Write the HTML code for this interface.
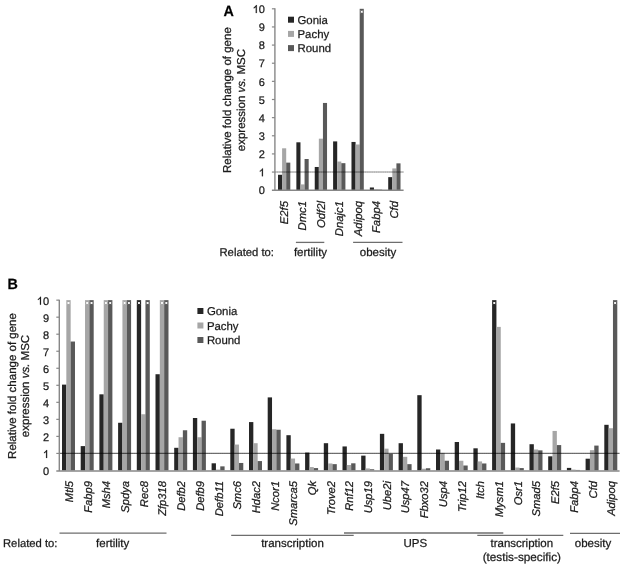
<!DOCTYPE html>
<html><head><meta charset="utf-8"><style>
html,body{margin:0;padding:0;background:#fff;}
body{width:624px;height:567px;overflow:hidden;}
svg{display:block;font-family:"Liberation Sans", sans-serif;filter:grayscale(1) blur(0.3px);text-rendering:geometricPrecision;}
text{stroke:#1a1a1a;stroke-width:0.25px;}
</style></head><body>
<svg width="624" height="567" viewBox="0 0 624 567">
<rect width="624" height="567" fill="#fff"/>
<rect x="278.00" y="174.78" width="4.10" height="15.42" fill="#262626"/>
<rect x="282.10" y="148.30" width="4.10" height="41.90" fill="#a6a6a6"/>
<rect x="286.20" y="162.63" width="4.10" height="27.57" fill="#595959"/>
<rect x="296.37" y="142.31" width="4.10" height="47.89" fill="#262626"/>
<rect x="300.47" y="184.40" width="4.10" height="5.80" fill="#a6a6a6"/>
<rect x="304.57" y="159.00" width="4.10" height="31.20" fill="#595959"/>
<rect x="314.74" y="166.98" width="4.10" height="23.22" fill="#262626"/>
<rect x="318.84" y="138.68" width="4.10" height="51.52" fill="#a6a6a6"/>
<rect x="322.94" y="102.95" width="4.10" height="87.25" fill="#595959"/>
<rect x="333.11" y="141.40" width="4.10" height="48.80" fill="#262626"/>
<rect x="337.21" y="161.54" width="4.10" height="28.66" fill="#a6a6a6"/>
<rect x="341.31" y="163.17" width="4.10" height="27.03" fill="#595959"/>
<rect x="351.48" y="141.95" width="4.10" height="48.25" fill="#262626"/>
<rect x="355.58" y="144.49" width="4.10" height="45.71" fill="#a6a6a6"/>
<rect x="359.68" y="8.80" width="4.10" height="181.40" fill="#595959"/>
<path d="M360.53 10.50L362.93 12.90M362.93 10.50L360.53 12.90" stroke="#fff" stroke-opacity="0.55" stroke-width="0.8"/>
<circle cx="361.73" cy="11.70" r="1.05" fill="#fff"/>
<rect x="369.85" y="187.48" width="4.10" height="2.72" fill="#262626"/>
<rect x="373.95" y="189.29" width="4.10" height="0.91" fill="#a6a6a6"/>
<rect x="378.05" y="189.66" width="4.10" height="0.54" fill="#595959"/>
<rect x="388.22" y="177.14" width="4.10" height="13.06" fill="#262626"/>
<rect x="392.32" y="168.43" width="4.10" height="21.77" fill="#a6a6a6"/>
<rect x="396.42" y="163.35" width="4.10" height="26.85" fill="#595959"/>
<line x1="274.90" y1="172.06" x2="403.60" y2="172.06" stroke="#000" stroke-width="1.5" stroke-opacity="0.28"/>
<line x1="274.90" y1="172.06" x2="403.60" y2="172.06" stroke="#000" stroke-width="1.2000000000000002" stroke-opacity="0.12" stroke-dasharray="1 1.2"/>
<line x1="274.90" y1="190.70" x2="274.90" y2="8.30" stroke="#878787" stroke-width="1.4" />
<text x="264.80" y="194.40" font-size="11" text-anchor="end" fill="#1a1a1a" stroke="#1a1a1a" >0</text>
<line x1="271.90" y1="172.06" x2="274.90" y2="172.06" stroke="#878787" stroke-width="1.2" />
<path d="M261.90 176.26L262.90 176.26L262.90 168.38L262.24 168.38C261.80 169.37 260.88 170.25 259.84 170.69L259.84 171.63C260.66 171.35 261.68 170.58 261.90 170.14Z" fill="#1a1a1a" stroke="#1a1a1a" stroke-width="0.2"/>
<line x1="271.90" y1="153.92" x2="274.90" y2="153.92" stroke="#878787" stroke-width="1.2" />
<text x="264.80" y="158.12" font-size="11" text-anchor="end" fill="#1a1a1a" stroke="#1a1a1a" >2</text>
<line x1="271.90" y1="135.78" x2="274.90" y2="135.78" stroke="#878787" stroke-width="1.2" />
<text x="264.80" y="139.98" font-size="11" text-anchor="end" fill="#1a1a1a" stroke="#1a1a1a" >3</text>
<line x1="271.90" y1="117.64" x2="274.90" y2="117.64" stroke="#878787" stroke-width="1.2" />
<text x="264.80" y="121.84" font-size="11" text-anchor="end" fill="#1a1a1a" stroke="#1a1a1a" >4</text>
<line x1="271.90" y1="99.50" x2="274.90" y2="99.50" stroke="#878787" stroke-width="1.2" />
<text x="264.80" y="103.70" font-size="11" text-anchor="end" fill="#1a1a1a" stroke="#1a1a1a" >5</text>
<line x1="271.90" y1="81.36" x2="274.90" y2="81.36" stroke="#878787" stroke-width="1.2" />
<text x="264.80" y="85.56" font-size="11" text-anchor="end" fill="#1a1a1a" stroke="#1a1a1a" >6</text>
<line x1="271.90" y1="63.22" x2="274.90" y2="63.22" stroke="#878787" stroke-width="1.2" />
<text x="264.80" y="67.42" font-size="11" text-anchor="end" fill="#1a1a1a" stroke="#1a1a1a" >7</text>
<line x1="271.90" y1="45.08" x2="274.90" y2="45.08" stroke="#878787" stroke-width="1.2" />
<text x="264.80" y="49.28" font-size="11" text-anchor="end" fill="#1a1a1a" stroke="#1a1a1a" >8</text>
<line x1="271.90" y1="26.94" x2="274.90" y2="26.94" stroke="#878787" stroke-width="1.2" />
<text x="264.80" y="31.14" font-size="11" text-anchor="end" fill="#1a1a1a" stroke="#1a1a1a" >9</text>
<line x1="271.90" y1="8.80" x2="274.90" y2="8.80" stroke="#878787" stroke-width="1.2" />
<text x="264.80" y="13.00" font-size="11" text-anchor="end" fill="#1a1a1a" stroke="#1a1a1a" >0</text>
<path d="M255.78 13.00L256.78 13.00L256.78 5.12L256.12 5.12C255.68 6.11 254.77 6.99 253.72 7.43L253.72 8.37C254.55 8.09 255.56 7.32 255.78 6.88Z" fill="#1a1a1a" stroke="#1a1a1a" stroke-width="0.2"/>
<line x1="271.90" y1="190.30" x2="403.60" y2="190.30" stroke="#878787" stroke-width="1.4" />
<text transform="translate(288.05,201.00) rotate(-90)" x="0" y="0" font-size="11.3" font-style="italic" text-anchor="end" fill="#1a1a1a">E2f5</text>
<text transform="translate(306.42,201.00) rotate(-90)" x="0" y="0" font-size="11.3" font-style="italic" text-anchor="end" fill="#1a1a1a">Dmc1</text>
<text transform="translate(324.79,201.00) rotate(-90)" x="0" y="0" font-size="11.3" font-style="italic" text-anchor="end" fill="#1a1a1a">Odf2l</text>
<text transform="translate(343.16,201.00) rotate(-90)" x="0" y="0" font-size="11.3" font-style="italic" text-anchor="end" fill="#1a1a1a">Dnajc1</text>
<text transform="translate(361.53,201.00) rotate(-90)" x="0" y="0" font-size="11.3" font-style="italic" text-anchor="end" fill="#1a1a1a">Adipoq</text>
<text transform="translate(379.90,201.00) rotate(-90)" x="0" y="0" font-size="11.3" font-style="italic" text-anchor="end" fill="#1a1a1a">Fabp4</text>
<text transform="translate(398.27,201.00) rotate(-90)" x="0" y="0" font-size="11.3" font-style="italic" text-anchor="end" fill="#1a1a1a">Cfd</text>
<text transform="translate(231.30,100.10) rotate(-90)" font-size="11.5" text-anchor="middle" fill="#1a1a1a">Relative fold change of gene</text>
<text transform="translate(244.50,100.10) rotate(-90)" font-size="11.5" text-anchor="middle" fill="#1a1a1a">expression <tspan font-style="italic">vs.</tspan> MSC</text>
<rect x="288.00" y="16.70" width="6.00" height="6.00" fill="#262626"/>
<text x="297.50" y="23.70" font-size="11.4" text-anchor="start" fill="#1a1a1a" stroke="#1a1a1a" >Gonia</text>
<rect x="288.00" y="30.90" width="6.00" height="6.00" fill="#a6a6a6"/>
<text x="297.50" y="37.90" font-size="11.4" text-anchor="start" fill="#1a1a1a" stroke="#1a1a1a" >Pachy</text>
<rect x="288.00" y="45.10" width="6.00" height="6.00" fill="#595959"/>
<text x="297.50" y="52.10" font-size="11.4" text-anchor="start" fill="#1a1a1a" stroke="#1a1a1a" >Round</text>
<text transform="translate(223.40,16.20) scale(0.97,1)" font-size="14.8" font-weight="bold" fill="#000" stroke="none">A</text>
<rect x="62.00" y="384.62" width="4.33" height="85.83" fill="#262626"/>
<rect x="66.33" y="300.15" width="4.33" height="170.30" fill="#a6a6a6"/>
<path d="M67.30 301.85L69.70 304.25M69.70 301.85L67.30 304.25" stroke="#fff" stroke-opacity="0.55" stroke-width="0.8"/>
<circle cx="68.50" cy="303.05" r="1.05" fill="#fff"/>
<rect x="70.66" y="341.53" width="4.33" height="128.92" fill="#595959"/>
<rect x="80.70" y="446.10" width="4.33" height="24.35" fill="#262626"/>
<rect x="85.03" y="300.15" width="4.33" height="170.30" fill="#a6a6a6"/>
<path d="M86.00 301.85L88.40 304.25M88.40 301.85L86.00 304.25" stroke="#fff" stroke-opacity="0.55" stroke-width="0.8"/>
<circle cx="87.20" cy="303.05" r="1.05" fill="#fff"/>
<rect x="89.36" y="300.15" width="4.33" height="170.30" fill="#595959"/>
<path d="M90.33 301.85L92.73 304.25M92.73 301.85L90.33 304.25" stroke="#fff" stroke-opacity="0.55" stroke-width="0.8"/>
<circle cx="91.53" cy="303.05" r="1.05" fill="#fff"/>
<rect x="99.40" y="394.33" width="4.33" height="76.12" fill="#262626"/>
<rect x="103.73" y="300.15" width="4.33" height="170.30" fill="#a6a6a6"/>
<path d="M104.70 301.85L107.10 304.25M107.10 301.85L104.70 304.25" stroke="#fff" stroke-opacity="0.55" stroke-width="0.8"/>
<circle cx="105.90" cy="303.05" r="1.05" fill="#fff"/>
<rect x="108.06" y="300.15" width="4.33" height="170.30" fill="#595959"/>
<path d="M109.03 301.85L111.43 304.25M111.43 301.85L109.03 304.25" stroke="#fff" stroke-opacity="0.55" stroke-width="0.8"/>
<circle cx="110.23" cy="303.05" r="1.05" fill="#fff"/>
<rect x="118.10" y="422.77" width="4.33" height="47.68" fill="#262626"/>
<rect x="122.43" y="300.15" width="4.33" height="170.30" fill="#a6a6a6"/>
<path d="M123.39 301.85L125.80 304.25M125.80 301.85L123.39 304.25" stroke="#fff" stroke-opacity="0.55" stroke-width="0.8"/>
<circle cx="124.59" cy="303.05" r="1.05" fill="#fff"/>
<rect x="126.76" y="300.15" width="4.33" height="170.30" fill="#595959"/>
<path d="M127.72 301.85L130.12 304.25M130.12 301.85L127.72 304.25" stroke="#fff" stroke-opacity="0.55" stroke-width="0.8"/>
<circle cx="128.92" cy="303.05" r="1.05" fill="#fff"/>
<rect x="136.80" y="300.15" width="4.33" height="170.30" fill="#262626"/>
<path d="M137.77 301.85L140.16 304.25M140.16 301.85L137.77 304.25" stroke="#fff" stroke-opacity="0.55" stroke-width="0.8"/>
<circle cx="138.97" cy="303.05" r="1.05" fill="#fff"/>
<rect x="141.13" y="414.25" width="4.33" height="56.20" fill="#a6a6a6"/>
<rect x="145.46" y="300.15" width="4.33" height="170.30" fill="#595959"/>
<path d="M146.43 301.85L148.82 304.25M148.82 301.85L146.43 304.25" stroke="#fff" stroke-opacity="0.55" stroke-width="0.8"/>
<circle cx="147.62" cy="303.05" r="1.05" fill="#fff"/>
<rect x="155.50" y="374.23" width="4.33" height="96.22" fill="#262626"/>
<rect x="159.83" y="300.15" width="4.33" height="170.30" fill="#a6a6a6"/>
<path d="M160.80 301.85L163.19 304.25M163.19 301.85L160.80 304.25" stroke="#fff" stroke-opacity="0.55" stroke-width="0.8"/>
<circle cx="162.00" cy="303.05" r="1.05" fill="#fff"/>
<rect x="164.16" y="300.15" width="4.33" height="170.30" fill="#595959"/>
<path d="M165.12 301.85L167.52 304.25M167.52 301.85L165.12 304.25" stroke="#fff" stroke-opacity="0.55" stroke-width="0.8"/>
<circle cx="166.32" cy="303.05" r="1.05" fill="#fff"/>
<rect x="174.20" y="447.80" width="4.33" height="22.65" fill="#262626"/>
<rect x="178.53" y="437.24" width="4.33" height="33.21" fill="#a6a6a6"/>
<rect x="182.86" y="430.26" width="4.33" height="40.19" fill="#595959"/>
<rect x="192.90" y="418.00" width="4.33" height="52.45" fill="#262626"/>
<rect x="197.23" y="437.24" width="4.33" height="33.21" fill="#a6a6a6"/>
<rect x="201.56" y="420.72" width="4.33" height="49.73" fill="#595959"/>
<rect x="211.60" y="463.30" width="4.33" height="7.15" fill="#262626"/>
<rect x="215.93" y="469.60" width="4.33" height="0.85" fill="#a6a6a6"/>
<rect x="220.26" y="466.36" width="4.33" height="4.09" fill="#595959"/>
<rect x="230.30" y="428.73" width="4.33" height="41.72" fill="#262626"/>
<rect x="234.63" y="444.56" width="4.33" height="25.89" fill="#a6a6a6"/>
<rect x="238.96" y="462.96" width="4.33" height="7.49" fill="#595959"/>
<rect x="249.00" y="422.08" width="4.33" height="48.37" fill="#262626"/>
<rect x="253.33" y="443.20" width="4.33" height="27.25" fill="#a6a6a6"/>
<rect x="257.66" y="461.08" width="4.33" height="9.37" fill="#595959"/>
<rect x="267.70" y="397.39" width="4.33" height="73.06" fill="#262626"/>
<rect x="272.03" y="429.24" width="4.33" height="41.21" fill="#a6a6a6"/>
<rect x="276.36" y="429.75" width="4.33" height="40.70" fill="#595959"/>
<rect x="286.40" y="435.20" width="4.33" height="35.25" fill="#262626"/>
<rect x="290.73" y="458.53" width="4.33" height="11.92" fill="#a6a6a6"/>
<rect x="295.06" y="463.47" width="4.33" height="6.98" fill="#595959"/>
<rect x="305.10" y="452.57" width="4.33" height="17.88" fill="#262626"/>
<rect x="309.43" y="467.04" width="4.33" height="3.41" fill="#a6a6a6"/>
<rect x="313.76" y="468.07" width="4.33" height="2.38" fill="#595959"/>
<rect x="323.80" y="443.20" width="4.33" height="27.25" fill="#262626"/>
<rect x="328.13" y="463.47" width="4.33" height="6.98" fill="#a6a6a6"/>
<rect x="332.46" y="464.15" width="4.33" height="6.30" fill="#595959"/>
<rect x="342.50" y="446.44" width="4.33" height="24.01" fill="#262626"/>
<rect x="346.83" y="465.00" width="4.33" height="5.45" fill="#a6a6a6"/>
<rect x="351.16" y="463.30" width="4.33" height="7.15" fill="#595959"/>
<rect x="361.20" y="455.63" width="4.33" height="14.82" fill="#262626"/>
<rect x="365.53" y="468.41" width="4.33" height="2.04" fill="#a6a6a6"/>
<rect x="369.86" y="469.26" width="4.33" height="1.19" fill="#595959"/>
<rect x="379.90" y="433.84" width="4.33" height="36.61" fill="#262626"/>
<rect x="384.23" y="448.65" width="4.33" height="21.80" fill="#a6a6a6"/>
<rect x="388.56" y="453.76" width="4.33" height="16.69" fill="#595959"/>
<rect x="398.60" y="443.20" width="4.33" height="27.25" fill="#262626"/>
<rect x="402.93" y="456.83" width="4.33" height="13.62" fill="#a6a6a6"/>
<rect x="407.26" y="464.15" width="4.33" height="6.30" fill="#595959"/>
<rect x="417.30" y="395.18" width="4.33" height="75.27" fill="#262626"/>
<rect x="421.63" y="468.75" width="4.33" height="1.70" fill="#a6a6a6"/>
<rect x="425.96" y="468.24" width="4.33" height="2.21" fill="#595959"/>
<rect x="436.00" y="449.50" width="4.33" height="20.95" fill="#262626"/>
<rect x="440.33" y="452.91" width="4.33" height="17.54" fill="#a6a6a6"/>
<rect x="444.66" y="460.74" width="4.33" height="9.71" fill="#595959"/>
<rect x="454.70" y="442.01" width="4.33" height="28.44" fill="#262626"/>
<rect x="459.03" y="460.74" width="4.33" height="9.71" fill="#a6a6a6"/>
<rect x="463.36" y="465.51" width="4.33" height="4.94" fill="#595959"/>
<rect x="473.40" y="448.31" width="4.33" height="22.14" fill="#262626"/>
<rect x="477.73" y="461.42" width="4.33" height="9.03" fill="#a6a6a6"/>
<rect x="482.06" y="463.47" width="4.33" height="6.98" fill="#595959"/>
<rect x="492.10" y="300.15" width="4.33" height="170.30" fill="#262626"/>
<path d="M493.06 301.85L495.46 304.25M495.46 301.85L493.06 304.25" stroke="#fff" stroke-opacity="0.55" stroke-width="0.8"/>
<circle cx="494.26" cy="303.05" r="1.05" fill="#fff"/>
<rect x="496.43" y="326.89" width="4.33" height="143.56" fill="#a6a6a6"/>
<rect x="500.76" y="442.86" width="4.33" height="27.59" fill="#595959"/>
<rect x="510.80" y="423.45" width="4.33" height="47.00" fill="#262626"/>
<rect x="515.13" y="467.55" width="4.33" height="2.90" fill="#a6a6a6"/>
<rect x="519.46" y="468.07" width="4.33" height="2.38" fill="#595959"/>
<rect x="529.50" y="444.22" width="4.33" height="26.23" fill="#262626"/>
<rect x="533.83" y="449.50" width="4.33" height="20.95" fill="#a6a6a6"/>
<rect x="538.16" y="450.35" width="4.33" height="20.10" fill="#595959"/>
<rect x="548.20" y="456.32" width="4.33" height="14.13" fill="#262626"/>
<rect x="552.53" y="430.94" width="4.33" height="39.51" fill="#a6a6a6"/>
<rect x="556.86" y="445.08" width="4.33" height="25.37" fill="#595959"/>
<rect x="566.90" y="467.90" width="4.33" height="2.55" fill="#262626"/>
<rect x="571.23" y="469.60" width="4.33" height="0.85" fill="#a6a6a6"/>
<rect x="575.56" y="469.94" width="4.33" height="0.51" fill="#595959"/>
<rect x="585.60" y="458.70" width="4.33" height="11.75" fill="#262626"/>
<rect x="589.93" y="450.18" width="4.33" height="20.27" fill="#a6a6a6"/>
<rect x="594.26" y="445.59" width="4.33" height="24.86" fill="#595959"/>
<rect x="604.30" y="424.81" width="4.33" height="45.64" fill="#262626"/>
<rect x="608.63" y="428.22" width="4.33" height="42.23" fill="#a6a6a6"/>
<rect x="612.96" y="300.15" width="4.33" height="170.30" fill="#595959"/>
<path d="M613.92 301.85L616.32 304.25M616.32 301.85L613.92 304.25" stroke="#fff" stroke-opacity="0.55" stroke-width="0.8"/>
<circle cx="615.12" cy="303.05" r="1.05" fill="#fff"/>
<line x1="59.30" y1="453.42" x2="619.60" y2="453.42" stroke="#000" stroke-width="1.1" stroke-opacity="0.55"/>
<line x1="59.30" y1="453.42" x2="619.60" y2="453.42" stroke="#000" stroke-width="0.8800000000000001" stroke-opacity="0.12" stroke-dasharray="1 1.2"/>
<line x1="59.30" y1="470.95" x2="59.30" y2="299.65" stroke="#878787" stroke-width="1.4" />
<text x="49.00" y="474.95" font-size="11" text-anchor="end" fill="#1a1a1a" stroke="#1a1a1a" >0</text>
<line x1="56.30" y1="453.42" x2="59.30" y2="453.42" stroke="#878787" stroke-width="1.2" />
<path d="M46.10 457.92L47.10 457.92L47.10 450.04L46.44 450.04C46.00 451.03 45.08 451.91 44.04 452.35L44.04 453.29C44.86 453.01 45.88 452.24 46.10 451.80Z" fill="#1a1a1a" stroke="#1a1a1a" stroke-width="0.2"/>
<line x1="56.30" y1="436.39" x2="59.30" y2="436.39" stroke="#878787" stroke-width="1.2" />
<text x="49.00" y="440.89" font-size="11" text-anchor="end" fill="#1a1a1a" stroke="#1a1a1a" >2</text>
<line x1="56.30" y1="419.36" x2="59.30" y2="419.36" stroke="#878787" stroke-width="1.2" />
<text x="49.00" y="423.86" font-size="11" text-anchor="end" fill="#1a1a1a" stroke="#1a1a1a" >3</text>
<line x1="56.30" y1="402.33" x2="59.30" y2="402.33" stroke="#878787" stroke-width="1.2" />
<text x="49.00" y="406.83" font-size="11" text-anchor="end" fill="#1a1a1a" stroke="#1a1a1a" >4</text>
<line x1="56.30" y1="385.30" x2="59.30" y2="385.30" stroke="#878787" stroke-width="1.2" />
<text x="49.00" y="389.80" font-size="11" text-anchor="end" fill="#1a1a1a" stroke="#1a1a1a" >5</text>
<line x1="56.30" y1="368.27" x2="59.30" y2="368.27" stroke="#878787" stroke-width="1.2" />
<text x="49.00" y="372.77" font-size="11" text-anchor="end" fill="#1a1a1a" stroke="#1a1a1a" >6</text>
<line x1="56.30" y1="351.24" x2="59.30" y2="351.24" stroke="#878787" stroke-width="1.2" />
<text x="49.00" y="355.74" font-size="11" text-anchor="end" fill="#1a1a1a" stroke="#1a1a1a" >7</text>
<line x1="56.30" y1="334.21" x2="59.30" y2="334.21" stroke="#878787" stroke-width="1.2" />
<text x="49.00" y="338.71" font-size="11" text-anchor="end" fill="#1a1a1a" stroke="#1a1a1a" >8</text>
<line x1="56.30" y1="317.18" x2="59.30" y2="317.18" stroke="#878787" stroke-width="1.2" />
<text x="49.00" y="321.68" font-size="11" text-anchor="end" fill="#1a1a1a" stroke="#1a1a1a" >9</text>
<line x1="56.30" y1="300.15" x2="59.30" y2="300.15" stroke="#878787" stroke-width="1.2" />
<text x="49.00" y="304.65" font-size="11" text-anchor="end" fill="#1a1a1a" stroke="#1a1a1a" >0</text>
<path d="M39.98 304.65L40.98 304.65L40.98 296.77L40.32 296.77C39.88 297.76 38.97 298.64 37.92 299.08L37.92 300.02C38.75 299.74 39.76 298.97 39.98 298.53Z" fill="#1a1a1a" stroke="#1a1a1a" stroke-width="0.2"/>
<line x1="56.30" y1="470.95" x2="619.60" y2="470.95" stroke="#878787" stroke-width="1.4" />
<text transform="translate(72.90,481.00) rotate(-90)" x="0" y="0" font-size="11.2" font-style="italic" text-anchor="end" fill="#1a1a1a">Mtl5</text>
<text transform="translate(91.60,481.00) rotate(-90)" x="0" y="0" font-size="11.2" font-style="italic" text-anchor="end" fill="#1a1a1a">Fabp9</text>
<text transform="translate(110.30,481.00) rotate(-90)" x="0" y="0" font-size="11.2" font-style="italic" text-anchor="end" fill="#1a1a1a">Msh4</text>
<text transform="translate(129.00,481.00) rotate(-90)" x="0" y="0" font-size="11.2" font-style="italic" text-anchor="end" fill="#1a1a1a">Spdya</text>
<text transform="translate(147.70,481.00) rotate(-90)" x="0" y="0" font-size="11.2" font-style="italic" text-anchor="end" fill="#1a1a1a">Rec8</text>
<text transform="translate(166.40,481.00) rotate(-90)" x="0" y="0" font-size="11.2" font-style="italic" text-anchor="end" fill="#1a1a1a">Zfp318</text>
<text transform="translate(185.09,481.00) rotate(-90)" x="0" y="0" font-size="11.2" font-style="italic" text-anchor="end" fill="#1a1a1a">Defb2</text>
<text transform="translate(203.80,481.00) rotate(-90)" x="0" y="0" font-size="11.2" font-style="italic" text-anchor="end" fill="#1a1a1a">Defb9</text>
<text transform="translate(222.50,481.00) rotate(-90)" x="0" y="0" font-size="11.2" font-style="italic" text-anchor="end" fill="#1a1a1a">Defb11</text>
<text transform="translate(241.19,481.00) rotate(-90)" x="0" y="0" font-size="11.2" font-style="italic" text-anchor="end" fill="#1a1a1a">Smc6</text>
<text transform="translate(259.89,481.00) rotate(-90)" x="0" y="0" font-size="11.2" font-style="italic" text-anchor="end" fill="#1a1a1a">Hdac2</text>
<text transform="translate(278.59,481.00) rotate(-90)" x="0" y="0" font-size="11.2" font-style="italic" text-anchor="end" fill="#1a1a1a">Ncor1</text>
<text transform="translate(297.29,481.00) rotate(-90)" x="0" y="0" font-size="11.2" font-style="italic" text-anchor="end" fill="#1a1a1a">Smarca5</text>
<text transform="translate(316.00,481.00) rotate(-90)" x="0" y="0" font-size="11.2" font-style="italic" text-anchor="end" fill="#1a1a1a">Qk</text>
<text transform="translate(334.69,481.00) rotate(-90)" x="0" y="0" font-size="11.2" font-style="italic" text-anchor="end" fill="#1a1a1a">Trove2</text>
<text transform="translate(353.39,481.00) rotate(-90)" x="0" y="0" font-size="11.2" font-style="italic" text-anchor="end" fill="#1a1a1a">Rnf12</text>
<text transform="translate(372.09,481.00) rotate(-90)" x="0" y="0" font-size="11.2" font-style="italic" text-anchor="end" fill="#1a1a1a">Usp19</text>
<text transform="translate(390.79,481.00) rotate(-90)" x="0" y="0" font-size="11.2" font-style="italic" text-anchor="end" fill="#1a1a1a">Ube2i</text>
<text transform="translate(409.49,481.00) rotate(-90)" x="0" y="0" font-size="11.2" font-style="italic" text-anchor="end" fill="#1a1a1a">Usp47</text>
<text transform="translate(428.19,481.00) rotate(-90)" x="0" y="0" font-size="11.2" font-style="italic" text-anchor="end" fill="#1a1a1a">Fbxo32</text>
<text transform="translate(446.89,481.00) rotate(-90)" x="0" y="0" font-size="11.2" font-style="italic" text-anchor="end" fill="#1a1a1a">Usp4</text>
<text transform="translate(465.59,481.00) rotate(-90)" x="0" y="0" font-size="11.2" font-style="italic" text-anchor="end" fill="#1a1a1a">Trip12</text>
<text transform="translate(484.29,481.00) rotate(-90)" x="0" y="0" font-size="11.2" font-style="italic" text-anchor="end" fill="#1a1a1a">Itch</text>
<text transform="translate(502.99,481.00) rotate(-90)" x="0" y="0" font-size="11.2" font-style="italic" text-anchor="end" fill="#1a1a1a">Mysm1</text>
<text transform="translate(521.69,481.00) rotate(-90)" x="0" y="0" font-size="11.2" font-style="italic" text-anchor="end" fill="#1a1a1a">Osr1</text>
<text transform="translate(540.39,481.00) rotate(-90)" x="0" y="0" font-size="11.2" font-style="italic" text-anchor="end" fill="#1a1a1a">Smad5</text>
<text transform="translate(559.10,481.00) rotate(-90)" x="0" y="0" font-size="11.2" font-style="italic" text-anchor="end" fill="#1a1a1a">E2f5</text>
<text transform="translate(577.79,481.00) rotate(-90)" x="0" y="0" font-size="11.2" font-style="italic" text-anchor="end" fill="#1a1a1a">Fabp4</text>
<text transform="translate(596.50,481.00) rotate(-90)" x="0" y="0" font-size="11.2" font-style="italic" text-anchor="end" fill="#1a1a1a">Cfd</text>
<text transform="translate(615.19,481.00) rotate(-90)" x="0" y="0" font-size="11.2" font-style="italic" text-anchor="end" fill="#1a1a1a">Adipoq</text>
<text transform="translate(15.50,386.00) rotate(-90)" font-size="11.5" text-anchor="middle" fill="#1a1a1a">Relative fold change of gene</text>
<text transform="translate(28.90,386.00) rotate(-90)" font-size="11.5" text-anchor="middle" fill="#1a1a1a">expression <tspan font-style="italic">vs.</tspan> MSC</text>
<rect x="197.40" y="308.00" width="6.00" height="6.00" fill="#262626"/>
<text x="206.90" y="315.00" font-size="11.4" text-anchor="start" fill="#1a1a1a" stroke="#1a1a1a" >Gonia</text>
<rect x="197.40" y="322.50" width="6.00" height="6.00" fill="#a6a6a6"/>
<text x="206.90" y="329.50" font-size="11.4" text-anchor="start" fill="#1a1a1a" stroke="#1a1a1a" >Pachy</text>
<rect x="197.40" y="337.00" width="6.00" height="6.00" fill="#595959"/>
<text x="206.90" y="344.00" font-size="11.4" text-anchor="start" fill="#1a1a1a" stroke="#1a1a1a" >Round</text>
<text transform="translate(7.40,289.40) scale(0.97,1)" font-size="14.8" font-weight="bold" fill="#000" stroke="none">B</text>
<text x="219.50" y="255.50" font-size="11.25" text-anchor="start" fill="#1a1a1a" stroke="#1a1a1a" >Related to:</text>
<line x1="295.90" y1="242.40" x2="324.30" y2="242.40" stroke="#6e6e6e" stroke-width="1.3" />
<text x="310.50" y="255.50" font-size="11.5" text-anchor="middle" fill="#1a1a1a" stroke="#1a1a1a" >fertility</text>
<line x1="353.10" y1="242.30" x2="402.50" y2="242.30" stroke="#6e6e6e" stroke-width="1.3" />
<text x="378.00" y="255.50" font-size="11.5" text-anchor="middle" fill="#1a1a1a" stroke="#1a1a1a" >obesity</text>
<text x="3.00" y="547.00" font-size="11.25" text-anchor="start" fill="#1a1a1a" stroke="#1a1a1a" >Related to:</text>
<line x1="59.50" y1="533.10" x2="166.50" y2="533.10" stroke="#6e6e6e" stroke-width="1.3" />
<text x="112.70" y="547.00" font-size="11.5" text-anchor="middle" fill="#1a1a1a" stroke="#1a1a1a" >fertility</text>
<line x1="231.20" y1="535.30" x2="353.70" y2="535.30" stroke="#6e6e6e" stroke-width="1.3" />
<text x="292.50" y="547.00" font-size="11.5" text-anchor="middle" fill="#1a1a1a" stroke="#1a1a1a" >transcription</text>
<line x1="344.00" y1="533.00" x2="503.30" y2="533.00" stroke="#6e6e6e" stroke-width="1.3" />
<text x="415.30" y="547.00" font-size="11.5" text-anchor="middle" fill="#1a1a1a" stroke="#1a1a1a" >UPS</text>
<line x1="477.30" y1="535.30" x2="563.30" y2="535.30" stroke="#6e6e6e" stroke-width="1.3" />
<text x="521.80" y="546.80" font-size="11.5" text-anchor="middle" fill="#1a1a1a" stroke="#1a1a1a" >transcription</text>
<text x="521.80" y="560.80" font-size="11.75" text-anchor="middle" fill="#1a1a1a" stroke="#1a1a1a" >(testis-specific)</text>
<line x1="570.00" y1="533.40" x2="620.00" y2="533.40" stroke="#6e6e6e" stroke-width="1.3" />
<text x="593.00" y="547.00" font-size="11.5" text-anchor="middle" fill="#1a1a1a" stroke="#1a1a1a" >obesity</text>
</svg>
</body></html>
